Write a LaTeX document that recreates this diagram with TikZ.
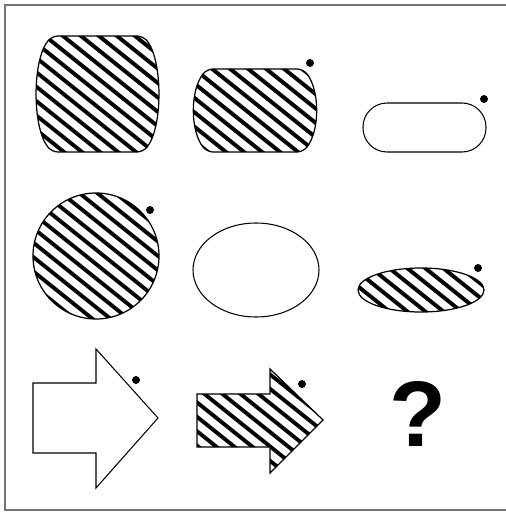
\documentclass[tikz,border=0pt]{standalone}
\usepackage{fontspec}
\setmainfont{Liberation Sans}

% 斜线填充: 先裁剪, 再画斜线, 最后描边
\newcommand{\hatchfill}[1]{%
  \begin{scope}
    \clip #1;
    \foreach \a in {-666,-648,...,520} \draw[stripe] (\a,0) -- ++(650,520);
  \end{scope}
  \draw[outline] #1;}

\begin{document}
\begin{tikzpicture}[
    x=0.02cm, y=-0.02cm,
    dot/.style={circle, fill=black, inner sep=1.6pt},
    stripe/.style={black, line width=0.078cm},
    outline/.style={draw=black, line width=0.7pt},
    plain/.style={draw=black, line width=0.6pt},
    frame/.style={draw=black!55, line width=1.2pt}
]
    \useasboundingbox (0,0) rectangle (506,513);

    % 外框 (右边没有竖线)
    \draw[frame] (506,5) -- (5,5) -- (5,510) -- (506,510);

    % 第一行
    \hatchfill{[rounded corners=0.12cm] (97,36) -- (143,36) .. controls (163,60) and (163,128) .. (143,152)
        -- (52,152) .. controls (32,128) and (32,60) .. (52,36) -- cycle}   % 大鼓形
    \hatchfill{[rounded corners=0.12cm] (255,69) -- (303,69) .. controls (320,90) and (320,131) .. (303,152)
        -- (207,152) .. controls (190,131) and (190,90) .. (207,69) -- cycle} % 小鼓形
    \draw[plain, rounded corners=0.48cm] (363,103) rectangle (486,152);  % 圆角矩形
    \node[dot] (d1) at (310,63) {};
    \node[dot] (d2) at (484,99) {};

    % 第二行
    \hatchfill{(96,256) circle[radius=63]}                              % 圆
    \draw[plain] (256,270) ellipse[x radius=63, y radius=47];           % 椭圆
    \hatchfill{(421,290) ellipse[x radius=63, y radius=22]}             % 扁椭圆
    \node[dot] (d3) at (150,210) {};
    \node[dot] (d4) at (478,268) {};

    % 第三行
    \draw[plain] (33,383) -- (96,383) -- (96,349) -- (158,418)
        -- (96,488) -- (96,453) -- (33,453) -- cycle;                   % 白箭头
    \hatchfill{(197,394) -- (270,394) -- (270,369) -- (323,420)
        -- (270,473) -- (270,447) -- (197,447) -- cycle}                % 斜线箭头
    \node[dot] (d5) at (136,380) {};
    \node[dot] (d6) at (302,384) {};
    \node[font=\bfseries\fontsize{53}{53}\selectfont] (qm) at (418,414) {?};

\end{tikzpicture}
\end{document}
